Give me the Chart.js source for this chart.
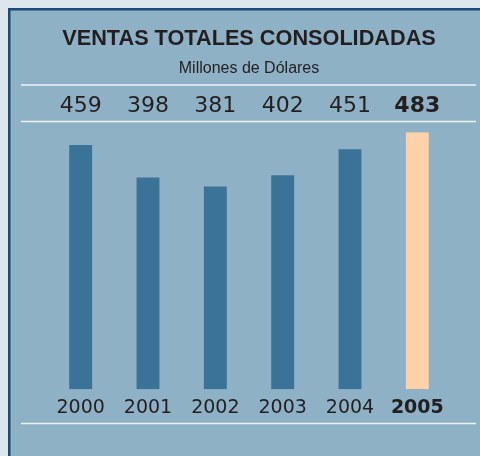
<!DOCTYPE html>
<html>
<head>
<meta charset="utf-8">
<script src="https://cdn.jsdelivr.net/npm/chart.js@4"></script>
<style>
  html, body { margin: 0; padding: 0; background: #dee6ed; }
  #wrap { position: absolute; left: 0; top: 0; width: 480px; height: 456px; }
</style>
</head>
<body>
<div id="wrap"><canvas id="chart" width="480" height="456"></canvas></div>
<script>
// data
const years = ['2000', '2001', '2002', '2003', '2004', '2005'];
const ventas = [459, 398, 381, 402, 451, 483];

const bar_color = '#3b7398';
const last_color = '#fdd2a8';
const ink = '#231f20';

// panel background, border and the white rules
const panel_plugin = {
    id: 'panel',
    beforeDraw: chart => {
        const c = chart.ctx;
        c.save();
        c.fillStyle = '#dee6ed';
        c.fillRect(0, 0, chart.width, chart.height);
        c.fillStyle = '#8eb1c5';
        c.fillRect(8, 8, chart.width - 8, chart.height - 8);
        c.strokeStyle = '#1c4a7a';
        c.lineWidth = 2.5;
        c.beginPath();
        c.moveTo(9.25, chart.height);
        c.lineTo(9.25, 9.25);
        c.lineTo(chart.width, 9.25);
        c.stroke();

        c.strokeStyle = '#eef3f6';
        c.lineWidth = 1.5;
        [85, 121.5, 423.5].forEach(y => {
            c.beginPath();
            c.moveTo(21, y);
            c.lineTo(476, y);
            c.stroke();
        });
        c.restore();
    }
};

const tick_font = size => ctx => ({
    family: '"DejaVu Sans", sans-serif',
    size: size,
    weight: ctx.index === years.length - 1 ? 'bold' : 'normal',
});

const ctx = document.getElementById('chart').getContext('2d');
const chart = new Chart(ctx, {
    type: 'bar',
    data: {
        labels: years,
        datasets: [
            {
                label: 'Ventas',
                data: ventas,
                backgroundColor: ventas.map((v, i) => i === ventas.length - 1 ? last_color : bar_color),
                barPercentage: 0.34,
                categoryPercentage: 1,
                borderWidth: 0,
            },
        ],
    },
    options: {
        animation: false,
        responsive: false,
        layout: {
            padding: { left: 47, right: 29, top: 0, bottom: 30 },
        },
        scales: {
            x: {
                position: 'bottom',
                grid: { display: false, drawTicks: false },
                border: { display: false },
                ticks: {
                    color: ink,
                    padding: 7,
                    font: tick_font(19),
                    maxRotation: 0,
                },
            },
            valores: {
                type: 'category',
                position: 'top',
                labels: ventas.map(v => String(v)),
                grid: { display: false, drawTicks: false },
                border: { display: false },
                ticks: {
                    color: ink,
                    padding: 13,
                    font: tick_font(22),
                    maxRotation: 0,
                },
            },
            y: {
                display: false,
                min: 0,
                max: Math.max(...ventas),
            },
        },
        plugins: {
            legend: { display: false },
            tooltip: { enabled: false },
            title: {
                display: true,
                text: 'VENTAS TOTALES CONSOLIDADAS',
                color: ink,
                font: { family: '"Liberation Sans", Arial, sans-serif', size: 21.7, weight: 'bold' },
                padding: { top: 26.5, bottom: 4 },
            },
            subtitle: {
                display: true,
                text: 'Millones de Dólares',
                color: ink,
                font: { family: '"Liberation Sans", Arial, sans-serif', size: 16 },
                padding: { top: 2, bottom: 2 },
            },
        },
    },
    plugins: [panel_plugin],
});
</script>
</body>
</html>
